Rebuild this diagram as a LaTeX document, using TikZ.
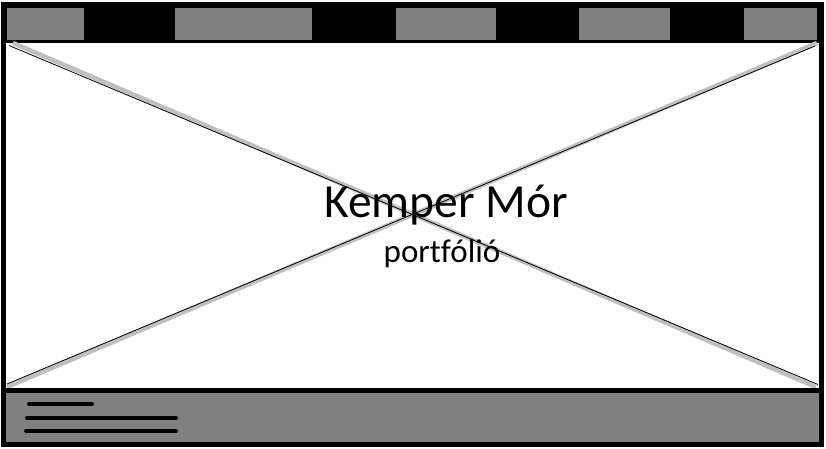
\documentclass[tikz,border=0pt]{standalone}
\usepackage{fontspec}
\setmainfont{Carlito}[Ligatures=NoCommon]
\tikzset{
	framestyle/.style={draw=black, line width=5pt},
	menustyle/.style={fill=black!50, draw=none},
	crossgray/.style={draw=black!25, line width=4.5pt},
	crossblack/.style={draw=black, line width=0.8pt},
	footline/.style={draw=black, line width=4pt, line cap=round}
}

\begin{document}
\begin{tikzpicture}[x=1pt, y=-1pt]

\def\bartop{8}
\def\barbot{40}

\useasboundingbox (0, 0) rectangle (826, 449);

% header and footer
\fill[black] (0.5, 2) rectangle (823.5, 43);
\fill[black!50] (3, 390) rectangle (821, 444.5);

\path[menustyle] (7, \bartop) rectangle (84, \barbot);
\path[menustyle] (175, \bartop) rectangle (312, \barbot);
\path[menustyle] (396, \bartop) rectangle (496, \barbot);
\path[menustyle] (579, \bartop) rectangle (670, \barbot);
\path[menustyle] (744, \bartop) rectangle (817, \barbot);

% cross
\coordinate (tl) at (13, 43);
\coordinate (br) at (816, 387);
\coordinate (tr) at (817, 43);
\coordinate (bl) at (7, 387);
\draw[crossgray] (tl) -- (br);
\draw[crossgray] (tr) -- (bl);
\draw[crossblack] (9, 45.5) -- (818, 384.5);
\draw[crossblack] (815, 46) -- (7, 384);

\draw[framestyle] (3, 4.5) rectangle (821, 444.5);
\draw[framestyle] (3, 390.5) -- (821, 390.5);

\node[anchor=base, font=\fontsize{47.5}{52}\selectfont] (title) at (446, 217) {Kemper Mór};
\node[anchor=base, font=\fontsize{33}{37}\selectfont] (subtitle) at (442, 262) {portfólió};

\draw[footline] (29, 404) -- (92, 404);
\draw[footline] (27, 418) -- (176, 418);
\draw[footline] (26, 431) -- (176, 431);

\end{tikzpicture}
\end{document}
